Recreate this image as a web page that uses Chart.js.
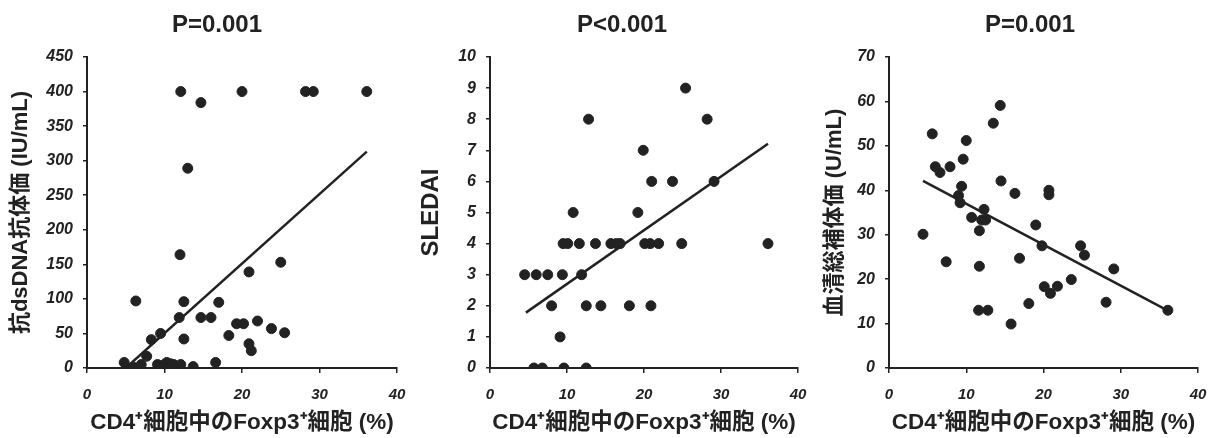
<!DOCTYPE html>
<html>
<head>
<meta charset="utf-8">
<script src="https://cdn.jsdelivr.net/npm/chart.js@4.4.0/dist/chart.umd.min.js"></script>
<style>
  html, body { margin: 0; padding: 0; background: #fff; overflow: hidden; }
  body { width: 1215px; height: 438px; position: relative; }
  canvas { position: absolute; top: 0; }
</style>
</head>
<body>
<canvas id="c1" width="434" height="438" style="left:0px"></canvas>
<canvas id="c2" width="424" height="438" style="left:410px"></canvas>
<canvas id="c3" width="420" height="438" style="left:820px"></canvas>
<script>
/* =========================================================
   DATA
========================================================= */
const titles = ["P=0.001", "P<0.001", "P=0.001"];
const xTitle = "CD4\u207A細胞中のFoxp3\u207A細胞 (%)";
const yTitles = ["抗dsDNA抗体価 (IU/mL)", "SLEDAI", "血清総補体価 (U/mL)"];

const xTicks = [0, 10, 20, 30, 40];
const yTicks1 = [0, 50, 100, 150, 200, 250, 300, 350, 400, 450];
const yTicks2 = [0, 1, 2, 3, 4, 5, 6, 7, 8, 9, 10];
const yTicks3 = [0, 10, 20, 30, 40, 50, 60, 70];

// panel 1: anti-dsDNA
const x1 = [4.8, 6.0, 6.3, 7.0, 7.7, 8.3, 9.5, 9.1, 10.0, 10.3, 10.8, 11.2, 12.1, 13.7, 12.1, 14.7, 13.0, 12.0, 11.9, 12.5, 12.5, 14.7, 16.0, 17.0, 16.6, 18.3, 19.3, 20.2, 20.0, 20.9, 20.9, 21.2, 22.0, 23.8, 25.0, 25.5, 28.2, 29.2, 36.1];
const y1 = [8, 1, 97, 5, 17, 41, 50, 5, 5, 8, 6, 5, 5, 2, 400, 384, 289, 164, 73, 96, 42, 73, 73, 95, 8, 47, 64, 64, 400, 139, 35, 25, 68, 57, 153, 51, 400, 400, 400];
const fit1X = [5.0, 36.1];
const fit1Y = [0, 313];

// panel 2: SLEDAI
const x2 = [4.5, 6.0, 7.5, 9.4, 5.7, 6.8, 8.0, 9.1, 9.6, 12.5, 9.5, 10.1, 10.8, 11.6, 11.9, 12.8, 12.5, 13.7, 14.4, 15.7, 16.4, 16.9, 18.1, 19.2, 19.9, 20.1, 20.8, 20.9, 21.0, 21.9, 23.7, 24.9, 25.4, 28.2, 29.1, 36.1];
const y2 = [3, 3, 3, 3, 0, 0, 2, 1, 0, 0, 4, 4, 5, 4, 3, 8, 2, 4, 2, 4, 4, 4, 2, 5, 7, 4, 4, 2, 6, 4, 6, 4, 9, 8, 6, 4];
const fit2X = [4.66, 36.1];
const fit2Y = [1.78, 7.21];

// panel 3: CH50
const x3 = [4.4, 5.6, 6.0, 6.6, 7.4, 7.9, 9.0, 9.2, 9.4, 9.6, 10.0, 10.7, 11.7, 11.7, 11.6, 12.8, 12.0, 12.3, 12.5, 13.5, 14.4, 14.5, 15.8, 16.3, 16.9, 18.1, 19.0, 19.8, 20.1, 20.7, 20.7, 20.9, 21.8, 23.6, 24.8, 25.3, 28.1, 29.1, 36.1];
const y3 = [30.1, 52.7, 45.3, 44.0, 23.9, 45.3, 38.8, 37.2, 40.9, 47.0, 51.2, 33.9, 30.9, 22.9, 13.0, 13.0, 33.3, 35.7, 33.3, 55.1, 59.1, 42.1, 9.9, 39.3, 24.7, 14.5, 32.2, 27.5, 18.3, 40.0, 39.0, 16.8, 18.4, 19.9, 27.5, 25.4, 14.8, 22.3, 13.0];
const fit3X = [4.4, 36.1];
const fit3Y = [42.1, 12.9];

/* =========================================================
   HELPERS
========================================================= */
const INK = "#222";
const FAM = "'Liberation Sans', Arial, 'Noto Sans CJK JP', sans-serif";

function pts(xs, ys) {
  return xs.map((x, i) => ({ x, y: ys[i] }));
}

function makePanel(id, o) {
  const yT = o.yTicks;
  return new Chart(document.getElementById(id), {
    type: "scatter",
    data: {
      datasets: [
        {
          data: pts(o.x, o.y),
          backgroundColor: INK,
          borderColor: INK,
          pointRadius: 5,
          pointHoverRadius: 5
        },
        {
          type: "line",
          data: pts(o.fitX, o.fitY),
          borderColor: INK,
          borderWidth: 2.5,
          pointRadius: 0,
          fill: false
        }
      ]
    },
    options: {
      responsive: false,
      animation: false,
      layout: { padding: 0 },
      plugins: {
        legend: { display: false },
        tooltip: { enabled: false },
        title: {
          display: true,
          text: o.title,
          color: INK,
          font: { family: FAM, size: 24, weight: "bold" },
          padding: { top: 11, bottom: 17.2 }
        }
      },
      scales: {
        x: {
          type: "linear",
          min: 0,
          max: 40,
          afterFit: s => { s.height = 70; },
          afterBuildTicks: s => { s.ticks = xTicks.map(v => ({ value: v })); },
          border: { color: INK, width: 2 },
          grid: { drawOnChartArea: false, drawTicks: true, tickLength: 5, color: INK, lineWidth: 1.5 },
          ticks: {
            color: INK,
            padding: 13,
            font: { family: FAM, size: 15, weight: "bold", style: "italic" }
          },
          title: {
            display: true,
            text: xTitle,
            color: INK,
            font: { family: FAM, size: 22.5, weight: "bold" },
            padding: { top: 0, bottom: 2 }
          }
        },
        y: {
          type: "linear",
          min: yT[0],
          max: yT[yT.length - 1],
          afterFit: s => { s.width = o.yWidth; },
          afterBuildTicks: s => { s.ticks = yT.map(v => ({ value: v })); },
          border: { color: INK, width: 2 },
          grid: { drawOnChartArea: false, drawTicks: true, tickLength: 4, color: INK, lineWidth: 1.5 },
          ticks: {
            color: INK,
            padding: 10,
            font: { family: FAM, size: 16, weight: "bold", style: "italic" }
          },
          title: {
            display: true,
            text: o.yTitle,
            color: INK,
            font: { family: FAM, size: o.yTitleSize, weight: "bold" },
            padding: { top: o.yTitlePad, bottom: 0 }
          }
        },
        // empty right-hand spacer so the title centres over the whole canvas
        spacer: {
          type: "linear",
          position: "right",
          afterFit: s => { s.width = o.padRight; },
          border: { display: false },
          grid: { display: false, drawTicks: false },
          ticks: { display: false }
        }
      }
    }
  });
}

/* =========================================================
   INIT
========================================================= */
makePanel("c1", {
  title: titles[0], yTitle: yTitles[0], yTicks: yTicks1,
  x: x1, y: y1, fitX: fit1X, fitY: fit1Y,
  yWidth: 87, padRight: 37, yTitleSize: 22, yTitlePad: 8
});
makePanel("c2", {
  title: titles[1], yTitle: yTitles[1], yTicks: yTicks2,
  x: x2, y: y2, fitX: fit2X, fitY: fit2Y,
  yWidth: 80, padRight: 36, yTitleSize: 24, yTitlePad: 7
});
makePanel("c3", {
  title: titles[2], yTitle: yTitles[2], yTicks: yTicks3,
  x: x3, y: y3, fitX: fit3X, fitY: fit3Y,
  yWidth: 69, padRight: 42, yTitleSize: 22, yTitlePad: 2
});
</script>
</body>
</html>
